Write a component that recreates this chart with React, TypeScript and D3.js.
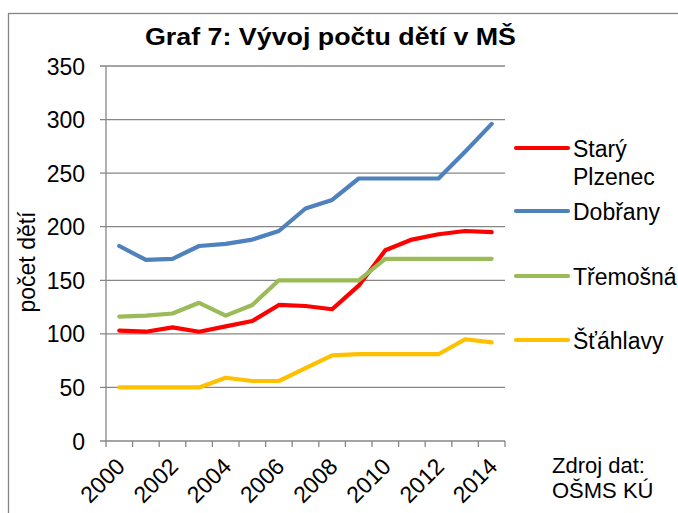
import React from 'react';
import * as d3 from 'd3';

const years = ['2000', '2001', '2002', '2003', '2004', '2005', '2006', '2007', '2008', '2009', '2010', '2011', '2012', '2013', '2014'];
const staryPlzenec = [103, 102, 106, 102, 107, 112, 127, 126, 123, 145, 178, 188, 193, 196, 195];
const dobrany = [182, 169, 170, 182, 184, 188, 196, 217, 225, 245, 245, 245, 245, 270, 296];
const tremosna = [116, 117, 119, 129, 117, 127, 150, 150, 150, 150, 170, 170, 170, 170, 170];
const stahlavy = [50, 50, 50, 50, 59, 56, 56, 68, 80, 81, 81, 81, 81, 95, 92];
const yTicks = [0, 50, 100, 150, 200, 250, 300, 350];

const series = [
  { name: ['Starý', 'Plzenec'], values: staryPlzenec, color: '#FF0000', legendY: 148 },
  { name: ['Dobřany'], values: dobrany, color: '#4F81BD', legendY: 211 },
  { name: ['Třemošná'], values: tremosna, color: '#9BBB59', legendY: 276 },
  { name: ['Šťáhlavy'], values: stahlavy, color: '#FFC000', legendY: 340 },
];

const W = 678;
const H = 513;
const plot = { left: 106, right: 505, top: 66, bottom: 441 };
const font = 'Liberation Sans, Arial, sans-serif';
const grey = '#868686';

export default function App() {
  const x = d3.scaleBand().domain(years).range([plot.left, plot.right]).padding(0);
  const y = d3.scaleLinear().domain([0, 350]).range([plot.bottom, plot.top]);
  const cx = (d: string) => (x(d) as number) + x.bandwidth() / 2;

  const line = d3.line<number>()
    .x((_, i) => cx(years[i]))
    .y(v => y(v));

  const bounds = years.map(d => x(d) as number).concat([plot.right]);

  return (
    <svg width={W} height={H} style={{ position: 'absolute', left: 0, top: 0, background: '#fff' }} fontFamily={font}>
      {/* frame */}
      <rect x={8.5} y={13.5} width={720} height={560} fill="none" stroke={grey} strokeWidth={1.3} />

      <text x={145} y={45} fontSize={23} fontWeight="bold" textLength={371} lengthAdjust="spacingAndGlyphs">Graf 7: Vývoj počtu dětí v MŠ</text>

      {/* grid lines and y ticks */}
      {yTicks.map(t => (
        <g key={t}>
          {t > 0 && <line x1={plot.left - 6} x2={plot.right} y1={y(t)} y2={y(t)} stroke={grey} strokeWidth={1.3} />}
          <text x={85} y={y(t) + 8.5} textAnchor="end" fontSize={23}>{t}</text>
        </g>
      ))}

      {/* axes */}
      <line x1={plot.left} x2={plot.left} y1={plot.top} y2={plot.bottom} stroke={grey} strokeWidth={1.3} />
      <line x1={plot.left - 6} x2={plot.right} y1={plot.bottom} y2={plot.bottom} stroke={grey} strokeWidth={1.3} />
      {bounds.map((b, i) => (
        <line key={i} x1={b} x2={b} y1={plot.bottom} y2={plot.bottom + 6} stroke={grey} strokeWidth={1.3} />
      ))}

      {/* x labels */}
      {years.filter((_, i) => i % 2 === 0).map(d => (
        <text key={d} transform={`translate(${cx(d) + 7},${plot.bottom + 27}) rotate(-45)`} textAnchor="end" fontSize={23}>{d}</text>
      ))}

      <text transform="translate(35,262) rotate(-90)" textAnchor="middle" fontSize={23}>počet dětí</text>

      {/* lines */}
      {series.map(s => (
        <path key={s.color} d={line(s.values) as string} fill="none" stroke={s.color} strokeWidth={4.2} strokeLinejoin="round" strokeLinecap="round" />
      ))}

      {/* legend */}
      {series.map(s => (
        <g key={s.color + 'l'}>
          <line x1={516} x2={568} y1={s.legendY} y2={s.legendY} stroke={s.color} strokeWidth={4.2} strokeLinecap="round" />
          {s.name.map((n, i) => (
            <text key={n} x={573} y={s.legendY + 9 + i * 28} fontSize={23}>{n}</text>
          ))}
        </g>
      ))}

      <text x={552} y={473} fontSize={22}>Zdroj dat:</text>
      <text x={552} y={498} fontSize={22}>OŠMS KÚ</text>
    </svg>
  );
}
